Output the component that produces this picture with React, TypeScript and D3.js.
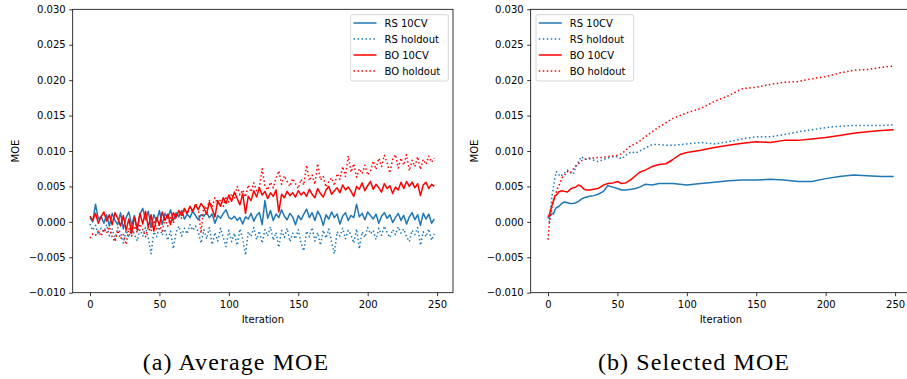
import { useEffect, useRef } from 'react';
import * as d3 from 'd3';

const W = 907;
const H = 379;

// (a) Average MOE: one value every 2 iterations (0..248)
const avgStep = 2;
const avgRsCv = [
  0.0006, 0.0000, 0.0025, 0.0004, 0.0008, -0.0002, 0.0010, -0.0006, 0.0012, 0.0002,
  -0.0004, 0.0013, -0.0010, 0.0006, 0.0014, -0.0005, 0.0009, -0.0012, 0.0011, 0.0019,
  0.0003, 0.0015, -0.0008, 0.0010, 0.0001, 0.0016, -0.0004, 0.0012, 0.0005, 0.0017,
  0.0002, 0.0013, 0.0007, 0.0016, 0.0004, 0.0011, 0.0006, 0.0015, 0.0009, 0.0003,
  0.0010, 0.0008, 0.0013, 0.0006, 0.0011, -0.0002, 0.0009, 0.0005, 0.0012, 0.0017,
  0.0006, 0.0004, 0.0008, 0.0002, 0.0006, -0.0003, 0.0007, 0.0004, 0.0012, 0.0001,
  0.0009, 0.0013, -0.0004, 0.0030, 0.0005, 0.0016, 0.0002, 0.0011, 0.0006, 0.0017,
  0.0008, 0.0003, 0.0012, 0.0007, -0.0004, 0.0009, 0.0003, 0.0011, 0.0018, 0.0006,
  0.0013, 0.0002, 0.0015, 0.0008, -0.0005, 0.0010, 0.0004, 0.0014, 0.0006, 0.0011,
  -0.0003, 0.0008, 0.0013, 0.0002, 0.0009, 0.0006, 0.0025, 0.0007, 0.0012, 0.0003,
  0.0014, 0.0009, 0.0004, 0.0011, -0.0002, 0.0008, 0.0013, 0.0005, 0.0010, -0.0001,
  0.0006, 0.0012, 0.0002, 0.0009, -0.0003, 0.0007, 0.0013, 0.0003, 0.0010, -0.0005,
  0.0012, 0.0004, 0.0011, -0.0002, 0.0004,
];
const avgRsHo = [
  -0.0003, -0.0012, -0.0005, -0.0018, -0.0009, -0.0014, -0.0004, -0.0020, -0.0010, -0.0025,
  -0.0008, -0.0016, -0.0030, -0.0012, -0.0022, -0.0006, -0.0018, -0.0027, -0.0011, -0.0020,
  -0.0008, -0.0024, -0.0045, -0.0014, -0.0021, -0.0007, -0.0019, -0.0010, -0.0026, -0.0013,
  -0.0038, -0.0015, -0.0006, -0.0020, -0.0009, -0.0017, -0.0004, -0.0012, -0.0006, -0.0014,
  -0.0030, -0.0011, -0.0024, -0.0008, -0.0032, -0.0015, -0.0027, -0.0009, -0.0022, -0.0035,
  -0.0012, -0.0028, -0.0016, -0.0033, -0.0010, -0.0024, -0.0047, -0.0014, -0.0021, -0.0008,
  -0.0025, -0.0013, -0.0030, -0.0011, -0.0020, -0.0007, -0.0026, -0.0015, -0.0036, -0.0012,
  -0.0022, -0.0009, -0.0028, -0.0016, -0.0024, -0.0011, -0.0030, -0.0041, -0.0013, -0.0021,
  -0.0008, -0.0027, -0.0015, -0.0033, -0.0012, -0.0023, -0.0010, -0.0029, -0.0045, -0.0014,
  -0.0020, -0.0009, -0.0024, -0.0012, -0.0018, -0.0030, -0.0010, -0.0038, -0.0014, -0.0022,
  -0.0008, -0.0017, -0.0012, -0.0025, -0.0009, -0.0019, -0.0006, -0.0015, -0.0022, -0.0011,
  -0.0018, -0.0007, -0.0016, -0.0010, -0.0021, -0.0028, -0.0012, -0.0018, -0.0008, -0.0033,
  -0.0014, -0.0021, -0.0010, -0.0026, -0.0017,
];
const avgBoCv = [
  0.0008, 0.0002, 0.0012, -0.0002, 0.0007, 0.0014, 0.0001, 0.0010, -0.0004, 0.0013,
  0.0005, -0.0006, 0.0009, -0.0012, 0.0004, -0.0016, 0.0007, -0.0010, 0.0012, -0.0003,
  0.0015, -0.0008, 0.0010, -0.0013, 0.0006, -0.0005, 0.0014, 0.0002, 0.0011, -0.0004,
  0.0013, 0.0006, 0.0016, 0.0009, 0.0019, 0.0012, 0.0022, 0.0015, 0.0024, 0.0017,
  0.0026, 0.0020, 0.0011, 0.0028, 0.0018, 0.0007, 0.0030, 0.0022, 0.0034, 0.0026,
  0.0038, 0.0029, 0.0042, 0.0033, 0.0024, 0.0040, 0.0012, 0.0036, 0.0030, 0.0044,
  0.0035, 0.0048, 0.0038, 0.0043, 0.0033, 0.0041, 0.0036, 0.0045, 0.0014, 0.0039,
  0.0034, 0.0043, 0.0037, 0.0041, 0.0035, 0.0044, 0.0038, 0.0042, 0.0036, 0.0046,
  0.0039, 0.0034, 0.0047, 0.0040, 0.0035, 0.0045, 0.0050, 0.0039, 0.0044, 0.0048,
  0.0041, 0.0052, 0.0045, 0.0049, 0.0043, 0.0036, 0.0050, 0.0046, 0.0055, 0.0044,
  0.0051, 0.0057, 0.0046, 0.0053, 0.0048, 0.0042, 0.0054, 0.0047, 0.0051, 0.0040,
  0.0049, 0.0045, 0.0056, 0.0047, 0.0057, 0.0050, 0.0056, 0.0048, 0.0054, 0.0037,
  0.0052, 0.0056, 0.0047, 0.0053, 0.0050,
];
const avgBoHo = [
  -0.0023, -0.0017, -0.0019, -0.0013, -0.0020, -0.0010, -0.0016, -0.0007, -0.0022, -0.0028,
  -0.0012, -0.0024, -0.0018, -0.0032, -0.0009, -0.0020, -0.0006, -0.0015, -0.0003, -0.0011,
  -0.0021, -0.0008, -0.0014, 0.0002, -0.0010, -0.0004, -0.0013, 0.0004, -0.0006, 0.0006,
  -0.0002, 0.0009, 0.0012, 0.0005, 0.0016, 0.0011, 0.0020, 0.0014, 0.0026, 0.0019,
  -0.0016, 0.0023, 0.0017, 0.0030, 0.0021, 0.0034, 0.0025, 0.0031, 0.0022, 0.0036,
  0.0028, 0.0040, 0.0033, 0.0050, 0.0038, 0.0045, 0.0035, 0.0052, 0.0042, 0.0055,
  0.0044, 0.0049, 0.0075, 0.0051, 0.0045, 0.0056, 0.0048, 0.0062, 0.0072, 0.0053,
  0.0065, 0.0057, 0.0050, 0.0061, 0.0054, 0.0047, 0.0060, 0.0052, 0.0080, 0.0058,
  0.0066, 0.0053, 0.0082, 0.0059, 0.0064, 0.0049, 0.0057, 0.0062, 0.0051, 0.0068,
  0.0060, 0.0078, 0.0064, 0.0093, 0.0070, 0.0082, 0.0063, 0.0075, 0.0068, 0.0080,
  0.0066, 0.0072, 0.0086, 0.0074, 0.0090, 0.0078, 0.0094, 0.0083, 0.0069, 0.0088,
  0.0095, 0.0076, 0.0090, 0.0080, 0.0095, 0.0072, 0.0087, 0.0078, 0.0092, 0.0074,
  0.0088, 0.0081, 0.0093, 0.0084, 0.0090,
];

// (b) Selected MOE
const selIters = [
  0, 1, 2, 3, 4, 5, 6, 7, 8, 9, 10,
  12, 14, 16, 18, 20, 22, 24, 26, 28, 30,
  33, 36, 40, 43, 47, 50, 53, 56, 60, 63, 66, 70,
  75, 80, 85, 90, 95, 100,
  110, 120, 130, 140, 150, 160, 170, 180, 190, 200, 210, 220, 230, 240,
  249,
];
const selRsCv = [
  0.0006, 0.0007, 0.0010, 0.0012, 0.0011, 0.0017, 0.0020, 0.0021, 0.0022, 0.0024, 0.0026,
  0.0028, 0.0027, 0.0026, 0.0026, 0.0027, 0.0029, 0.0032, 0.0034, 0.0035, 0.0036,
  0.0037, 0.0039, 0.0043, 0.0051, 0.0049, 0.0047, 0.0045, 0.0045, 0.0046, 0.0047, 0.0049, 0.0053,
  0.0052, 0.0054, 0.0054, 0.0054, 0.0053, 0.0052,
  0.0054, 0.0056, 0.0058, 0.0059, 0.0059, 0.0060, 0.0059, 0.0057, 0.0057, 0.0061, 0.0064, 0.0066, 0.0065, 0.0064,
  0.0064,
];
const selRsHo = [
  0.0007, 0.0000, 0.0020, 0.0038, 0.0050, 0.0062, 0.0071, 0.0068, 0.0066, 0.0064, 0.0066,
  0.0069, 0.0073, 0.0070, 0.0067, 0.0077, 0.0085, 0.0092, 0.0089, 0.0088, 0.0089,
  0.0087, 0.0085, 0.0088, 0.0090, 0.0092, 0.0092, 0.0089, 0.0094, 0.0099, 0.0097, 0.0100, 0.0104,
  0.0109, 0.0109, 0.0108, 0.0108, 0.0109, 0.0110,
  0.0112, 0.0110, 0.0113, 0.0117, 0.0120, 0.0120, 0.0123, 0.0127, 0.0130, 0.0133, 0.0135, 0.0136, 0.0136, 0.0136,
  0.0137,
];
const selBoCv = [
  0.0007, 0.0010, 0.0017, 0.0024, 0.0030, 0.0036, 0.0038, 0.0040, 0.0043, 0.0043, 0.0044,
  0.0043, 0.0042, 0.0046, 0.0048, 0.0049, 0.0052, 0.0050, 0.0046, 0.0045, 0.0045,
  0.0046, 0.0047, 0.0052, 0.0054, 0.0055, 0.0057, 0.0054, 0.0055, 0.0060, 0.0065, 0.0070, 0.0073,
  0.0078, 0.0081, 0.0082, 0.0088, 0.0095, 0.0098,
  0.0101, 0.0105, 0.0108, 0.0111, 0.0113, 0.0112, 0.0115, 0.0115, 0.0117, 0.0119, 0.0122, 0.0125, 0.0127, 0.0129,
  0.0130,
];
const selBoHo = [
  -0.0025, -0.0002, 0.0010, 0.0022, 0.0030, 0.0036, 0.0042, 0.0048, 0.0052, 0.0056, 0.0062,
  0.0066, 0.0071, 0.0069, 0.0074, 0.0079, 0.0082, 0.0086, 0.0088, 0.0089, 0.0090,
  0.0090, 0.0091, 0.0091, 0.0092, 0.0093, 0.0094, 0.0096, 0.0101, 0.0108, 0.0110, 0.0114, 0.0120,
  0.0127, 0.0134, 0.0140, 0.0146, 0.0150, 0.0154,
  0.0160, 0.0170, 0.0178, 0.0188, 0.0190, 0.0194, 0.0197, 0.0198, 0.0202, 0.0205, 0.0210, 0.0214, 0.0215, 0.0218,
  0.0220,
];

const xTicks = [0, 50, 100, 150, 200, 250];
const yTicks = [-0.01, -0.005, 0, 0.005, 0.01, 0.015, 0.02, 0.025, 0.03];
const seriesNames = ['RS 10CV', 'RS holdout', 'BO 10CV', 'BO holdout'];
const seriesColors = ['#1f77b4', '#1f77b4', '#ff0000', '#ff0000'];
const seriesDotted = [false, true, false, true];
const captions = ['(a) Average MOE', '(b) Selected MOE'];

const FONT = 'DejaVu Sans, sans-serif';
const TOP = 9.3;
const PLOT_W = 380.3;
const PLOT_H = 283.4;

interface PanelOpts {
  left: number;
  iters: number[];
  series: number[][];
  legendLeft: number;
  yLabelX: number;
  caption: string;
  captionX: number;
}

function drawPanel(
  svg: d3.Selection<SVGSVGElement, unknown, null, undefined>,
  opts: PanelOpts
) {
  const { left, iters, series, legendLeft, yLabelX, caption, captionX } = opts;
  const right = left + PLOT_W;
  const bottom = TOP + PLOT_H;

  const x = d3.scaleLinear().domain([-12.45, 261.45]).range([left, right]);
  const y = d3.scaleLinear().domain([-0.01, 0.03]).range([bottom, TOP]);

  const g = svg.append('g');

  // Lines
  series.forEach((vals, si) => {
    const line = d3
      .line<number>()
      .x((_, i) => x(iters[i]))
      .y((d) => y(d));
    g.append('path')
      .datum(vals)
      .attr('d', line)
      .attr('fill', 'none')
      .attr('stroke', seriesColors[si])
      .attr('stroke-width', 1.5)
      .attr('stroke-linejoin', 'round')
      .attr('stroke-dasharray', seriesDotted[si] ? '1.5,2.475' : null);
  });

  // Spines
  g.append('rect')
    .attr('x', left)
    .attr('y', TOP)
    .attr('width', PLOT_W)
    .attr('height', PLOT_H)
    .attr('fill', 'none')
    .attr('stroke', '#000')
    .attr('stroke-width', 0.8);

  // Axes
  const yAxis = d3
    .axisLeft(y)
    .tickValues(yTicks)
    .tickSize(3.5)
    .tickPadding(3.5)
    .tickFormat(d3.format('.3f'));
  const ya = g.append('g').attr('transform', `translate(${left},0)`).call(yAxis);

  const xAxis = d3
    .axisBottom(x)
    .tickValues(xTicks)
    .tickSize(3.5)
    .tickPadding(4.5)
    .tickFormat(d3.format('d'));
  const xa = g.append('g').attr('transform', `translate(0,${bottom})`).call(xAxis);

  [ya, xa].forEach((a) => {
    a.select('.domain').remove();
    a.attr('font-family', FONT).attr('font-size', 10);
    a.selectAll('line').attr('stroke', '#000').attr('stroke-width', 0.8);
    a.selectAll('text').attr('fill', '#000');
  });

  // Axis labels
  g.append('text')
    .attr('x', (left + right) / 2)
    .attr('y', 323)
    .attr('text-anchor', 'middle')
    .attr('font-family', FONT)
    .attr('font-size', 10)
    .text('Iteration');

  g.append('text')
    .attr('transform', `translate(${yLabelX},${(TOP + bottom) / 2}) rotate(-90)`)
    .attr('text-anchor', 'middle')
    .attr('font-family', FONT)
    .attr('font-size', 10)
    .text('MOE');

  // Legend
  const lg = g.append('g').attr('transform', `translate(${legendLeft},14.7)`);
  lg.append('rect')
    .attr('width', 97.6)
    .attr('height', 66.3)
    .attr('rx', 2)
    .attr('fill', '#fff')
    .attr('fill-opacity', 0.8)
    .attr('stroke', '#cccccc')
    .attr('stroke-width', 0.8);
  seriesNames.forEach((name, si) => {
    const cy = 8.3 + si * 16;
    lg.append('line')
      .attr('x1', 2.8)
      .attr('x2', 25.8)
      .attr('y1', cy)
      .attr('y2', cy)
      .attr('stroke', seriesColors[si])
      .attr('stroke-width', 1.5)
      .attr('stroke-dasharray', seriesDotted[si] ? '1.5,2.475' : null);
    lg.append('text')
      .attr('x', 33.8)
      .attr('y', cy + 3.6)
      .attr('font-family', FONT)
      .attr('font-size', 10)
      .attr('fill', '#000')
      .text(name);
  });

  // Caption
  svg
    .append('text')
    .attr('x', captionX)
    .attr('y', 369.5)
    .attr('text-anchor', 'middle')
    .attr('font-family', 'Liberation Serif, serif')
    .attr('font-size', 24)
    .attr('letter-spacing', 1.1)
    .attr('fill', '#000')
    .text(caption);
}

export default function App() {
  const svgRef = useRef<SVGSVGElement>(null);

  useEffect(() => {
    if (!svgRef.current) return;
    const svg = d3.select(svgRef.current);
    svg.selectAll('*').remove();

    svg.append('rect').attr('width', W).attr('height', H).attr('fill', '#fff');

    const avgIters = avgRsCv.map((_, i) => i * avgStep);

    drawPanel(svg, {
      left: 72.7,
      iters: avgIters,
      series: [avgRsCv, avgRsHo, avgBoCv, avgBoHo],
      legendLeft: 350.7,
      yLabelX: 18.9,
      caption: captions[0],
      captionX: 236,
    });

    drawPanel(svg, {
      left: 530.7,
      iters: selIters,
      series: [selRsCv, selRsHo, selBoCv, selBoHo],
      legendLeft: 536,
      yLabelX: 477.6,
      caption: captions[1],
      captionX: 694,
    });
  }, []);

  return (
    <svg
      ref={svgRef}
      width={W}
      height={H}
      style={{ position: 'absolute', left: 0, top: 0 }}
    />
  );
}
